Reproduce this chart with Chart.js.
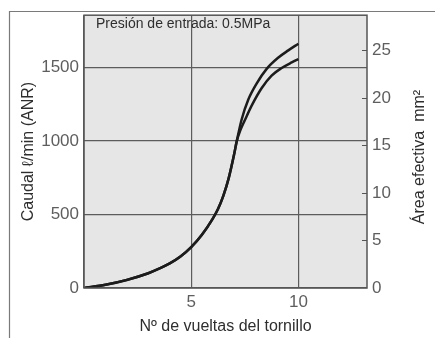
<!DOCTYPE html>
<html lang="es">
<head>
    <meta charset="UTF-8">
    <title>Caudal y área efectiva</title>
    <script src="https://cdn.jsdelivr.net/npm/chart.js"></script>
    <style>
        body { margin: 0; background: #fff; }
        #chart { display: block; }
    </style>
</head>
<body>
    <canvas id="chart" width="435" height="338"></canvas>

    <script>
        // Nº de vueltas del tornillo vs caudal (l/min ANR), eje izquierdo
        const turnsFlow = [0, 1, 2, 3, 3.5, 4, 4.5, 5, 5.5, 6, 6.25, 6.5, 6.75, 7.0, 7.12, 7.3, 7.5, 7.82, 8.29, 8.75, 9.22, 9.69, 10];
        const caudal    = [0, 22, 55, 100, 131, 167, 214, 278, 362, 470, 537, 627, 747, 907, 995, 1075, 1140, 1240, 1360, 1444, 1496, 1534, 1556];

        // vueltas vs área efectiva (mm2), eje derecho
        const turnsArea = [0, 1, 2, 3, 3.5, 4, 4.5, 5, 5.5, 6, 6.25, 6.5, 6.75, 7.0, 7.12, 7.35, 7.66, 8.05, 8.52, 9.07, 9.53, 10];
        const area      = [0, 0.34, 0.85, 1.55, 2.03, 2.59, 3.31, 4.3, 5.6, 7.28, 8.31, 9.71, 11.56, 14.04, 15.4, 17.7, 19.8, 21.5, 23.05, 24.25, 25.0, 25.7];

        const xTicks = [5, 10];
        const flowTicks = [0, 500, 1000, 1500];
        const areaTicks = [0, 5, 10, 15, 20, 25];

        const noteText = 'Presión de entrada: 0.5MPa';
        const areaTitle = 'Área efectiva  mm²';

        const gridColor = '#5c5c5c';
        const tickColor = '#5e5e5e';
        const titleColor = '#2e2e2e';
        const fontFamily = '"Liberation Sans", Arial, sans-serif';

        const plotDecor = {
            id: 'plotDecor',
            beforeDraw(chart) {
                const { ctx, chartArea: a } = chart;
                ctx.save();
                ctx.fillStyle = '#e6e6e6';
                ctx.fillRect(a.left, a.top, a.right - a.left, a.bottom - a.top);
                // outer frame (left + top)
                ctx.strokeStyle = '#7a7a7a';
                ctx.lineWidth = 1.2;
                ctx.beginPath();
                ctx.moveTo(9.5, 338);
                ctx.lineTo(9.5, 11.5);
                ctx.lineTo(435, 11.5);
                ctx.stroke();
                ctx.restore();
            },
            afterDraw(chart) {
                const { ctx, chartArea: a } = chart;
                const y1 = chart.scales.y1;
                ctx.save();
                ctx.strokeStyle = '#555';
                ctx.lineWidth = 1.5;
                ctx.strokeRect(a.left, a.top, a.right - a.left, a.bottom - a.top);

                // small ticks on the right axis, inside the plot
                ctx.lineWidth = 1.2;
                ctx.beginPath();
                areaTicks.forEach(v => {
                    if (v === 0) return;
                    const py = Math.round(y1.getPixelForValue(v)) + 0.5;
                    ctx.moveTo(a.right - 5, py);
                    ctx.lineTo(a.right, py);
                });
                ctx.stroke();

                ctx.fillStyle = titleColor;
                ctx.font = '14px ' + fontFamily;
                ctx.textBaseline = 'middle';
                ctx.fillText(noteText, a.left + 12, 24);

                // right title reads bottom-to-top
                ctx.translate(420, 157);
                ctx.rotate(-Math.PI / 2);
                ctx.textAlign = 'center';
                ctx.font = '16px ' + fontFamily;
                ctx.fillText(areaTitle, 0, 0);
                ctx.restore();
            }
        };

        const ctx = document.getElementById('chart').getContext('2d');
        new Chart(ctx, {
            type: 'line',
            data: {
                datasets: [
                    {
                        label: 'Caudal',
                        data: turnsFlow.map((t, i) => ({ x: t, y: caudal[i] })),
                        yAxisID: 'y',
                        borderColor: '#1c1c1c',
                        borderWidth: 2.5,
                        pointRadius: 0,
                        fill: false,
                        cubicInterpolationMode: 'monotone'
                    },
                    {
                        label: 'Área efectiva',
                        data: turnsArea.map((t, i) => ({ x: t, y: area[i] })),
                        yAxisID: 'y1',
                        borderColor: '#1c1c1c',
                        borderWidth: 2.5,
                        pointRadius: 0,
                        fill: false,
                        cubicInterpolationMode: 'monotone'
                    }
                ]
            },
            options: {
                responsive: false,
                animation: false,
                layout: { padding: { top: 11, left: 0, right: 0, bottom: 0 } },
                plugins: {
                    legend: { display: false },
                    tooltip: { enabled: false }
                },
                scales: {
                    x: {
                        type: 'linear',
                        min: 0,
                        max: 13.2,
                        afterBuildTicks: s => { s.ticks = [0].concat(xTicks).map(v => ({ value: v })); },
                        afterFit: s => { s.height = 50; },
                        ticks: {
                            callback: v => (v === 0 ? '' : String(v)),
                            color: tickColor,
                            font: { family: fontFamily, size: 17 },
                            padding: 4,
                            maxRotation: 0
                        },
                        grid: { color: gridColor, lineWidth: 1.2, drawTicks: false },
                        border: { display: false },
                        title: {
                            display: true,
                            text: 'Nº de vueltas del tornillo',
                            color: titleColor,
                            font: { family: fontFamily, size: 16 },
                            padding: { top: 0, bottom: 2 }
                        }
                    },
                    y: {
                        position: 'left',
                        min: 0,
                        max: 1855,
                        afterBuildTicks: s => { s.ticks = flowTicks.map(v => ({ value: v })); },
                        afterFit: s => { s.width = 84; },
                        ticks: {
                            callback: v => String(v),
                            color: tickColor,
                            font: { family: fontFamily, size: 17 },
                            padding: 5
                        },
                        grid: { color: gridColor, lineWidth: 1.2, drawTicks: false },
                        border: { display: false },
                        title: {
                            display: true,
                            text: 'Caudal ℓ/min (ANR)',
                            color: titleColor,
                            font: { family: fontFamily, size: 16 },
                            padding: { top: 19, bottom: 0 }
                        }
                    },
                    y1: {
                        position: 'right',
                        min: 0,
                        max: 28.7,
                        afterBuildTicks: s => { s.ticks = areaTicks.map(v => ({ value: v })); },
                        afterFit: s => { s.width = 68; },
                        ticks: {
                            callback: v => String(v),
                            color: tickColor,
                            font: { family: fontFamily, size: 17 },
                            padding: 5
                        },
                        grid: { drawOnChartArea: false, drawTicks: false },
                        border: { display: false }
                    }
                }
            },
            plugins: [plotDecor]
        });
    </script>
</body>
</html>
